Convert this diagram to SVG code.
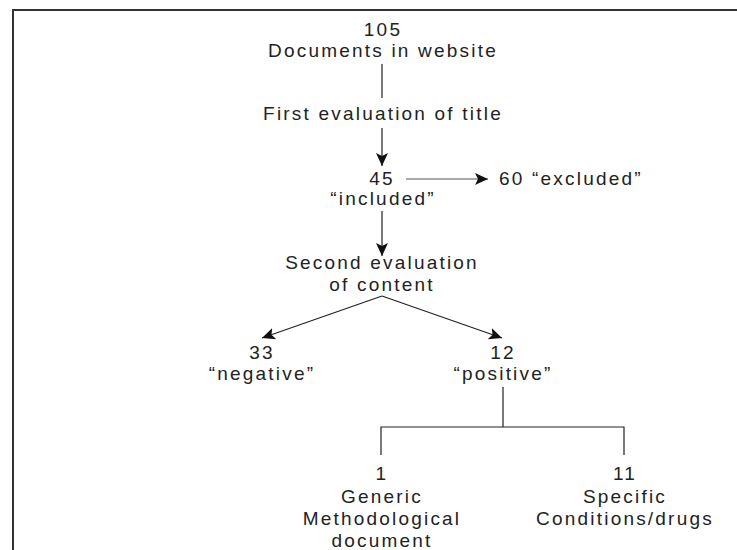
<svg xmlns="http://www.w3.org/2000/svg" width="737" height="550" viewBox="0 0 737 550">
  <defs>
    <style>
      text { font-family: "Liberation Sans", Arial, sans-serif; font-size: 19px; fill: #222; letter-spacing: 2.2px; text-anchor: middle; }
      .ln { stroke: #222; stroke-width: 1.2; fill: none; }
      .thin { stroke: #555; stroke-width: 1; fill: none; }
      .frame { stroke: #333; stroke-width: 2; fill: none; }
    </style>
    <marker id="arrow" markerWidth="14" markerHeight="12" refX="13" refY="6" orient="auto" markerUnits="userSpaceOnUse">
      <path d="M0,0 L13,6 L0,12 L3,6 Z" fill="#111"/>
    </marker>
  </defs>

  <rect width="737" height="550" fill="#fff"/>
  <!-- frame: top and left edges only -->
  <path class="frame" d="M13,550 L13,10 L737,10"/>

  <g id="connectors">
    <line class="ln" x1="382" y1="64" x2="382" y2="98"/>
    <line class="ln" x1="382" y1="128" x2="382" y2="166" marker-end="url(#arrow)"/>
    <line class="thin" x1="406" y1="179" x2="488" y2="179" marker-end="url(#arrow)"/>
    <line class="ln" x1="382" y1="211" x2="382" y2="256" marker-end="url(#arrow)"/>
    <line class="ln" x1="382" y1="296" x2="262" y2="338" marker-end="url(#arrow)"/>
    <line class="ln" x1="382" y1="296" x2="502" y2="338" marker-end="url(#arrow)"/>
    <path class="ln" d="M503,387 L503,427 M381,455 L381,427 L624,427 L624,455"/>
  </g>

  <g id="documents">
    <text x="383" y="36">105</text>
    <text x="383" y="57">Documents in website</text>
  </g>
  <g id="first-evaluation">
    <text x="383" y="120">First evaluation of title</text>
  </g>
  <g id="included">
    <text x="382" y="185">45</text>
    <text x="383" y="205">“included”</text>
  </g>
  <g id="excluded">
    <text x="499" y="185" style="text-anchor:start">60 “excluded”</text>
  </g>
  <g id="second-evaluation">
    <text x="382" y="269">Second evaluation</text>
    <text x="382" y="291">of content</text>
  </g>
  <g id="negative">
    <text x="262" y="359">33</text>
    <text x="262" y="380">“negative”</text>
  </g>
  <g id="positive">
    <text x="503" y="359">12</text>
    <text x="503" y="380">“positive”</text>
  </g>
  <g id="generic">
    <text x="382" y="480">1</text>
    <text x="382" y="503">Generic</text>
    <text x="382" y="525">Methodological</text>
    <text x="382" y="547">document</text>
  </g>
  <g id="specific">
    <text x="625" y="480">11</text>
    <text x="625" y="503">Specific</text>
    <text x="625" y="525">Conditions/drugs</text>
  </g>
</svg>
